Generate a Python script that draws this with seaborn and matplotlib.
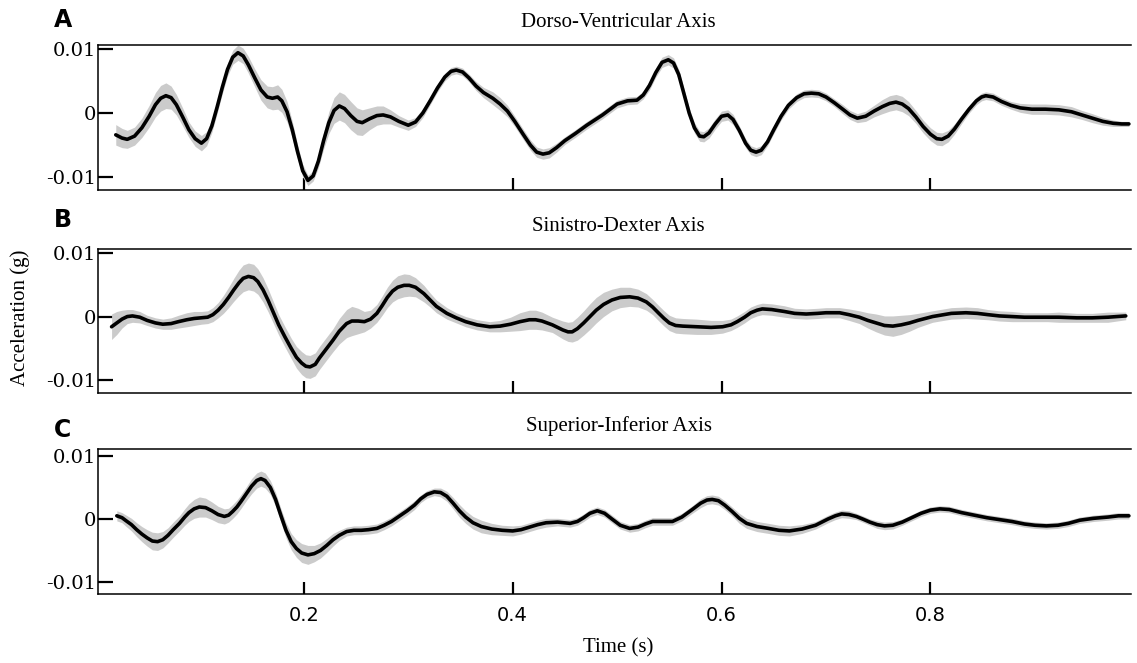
import matplotlib
matplotlib.use("Agg")
import matplotlib.pyplot as plt
import numpy as np
import pandas as pd
import seaborn as sns

# values, acceleration in units of 1e-3 g
# spread = half width of the grey band
dv_time = [0.020, 0.026, 0.031, 0.038, 0.045, 0.052, 0.058, 0.063, 0.068, 0.073,
           0.078, 0.084, 0.090, 0.096, 0.102, 0.107, 0.112, 0.117, 0.122, 0.127,
           0.132, 0.137, 0.142, 0.147, 0.153, 0.159, 0.165, 0.170, 0.175, 0.179,
           0.184, 0.189, 0.194, 0.199, 0.204, 0.209, 0.214, 0.219, 0.224, 0.229,
           0.234, 0.239, 0.245, 0.251, 0.256, 0.263, 0.270, 0.276, 0.283, 0.291,
           0.300, 0.307, 0.314, 0.321, 0.328, 0.335, 0.341, 0.346, 0.352, 0.358,
           0.365, 0.372, 0.381, 0.388, 0.395, 0.402, 0.410, 0.417, 0.423, 0.429,
           0.435, 0.442, 0.450, 0.460, 0.471, 0.486, 0.500, 0.510, 0.519, 0.525,
           0.531, 0.537, 0.543, 0.549, 0.554, 0.559, 0.564, 0.569, 0.574, 0.579,
           0.583, 0.588, 0.594, 0.600, 0.606, 0.611, 0.617, 0.623, 0.628, 0.633,
           0.638, 0.644, 0.650, 0.657, 0.664, 0.672, 0.679, 0.686, 0.693, 0.700,
           0.708, 0.716, 0.723, 0.730, 0.738, 0.746, 0.754, 0.761, 0.767, 0.773,
           0.779, 0.786, 0.793, 0.800, 0.806, 0.811, 0.817, 0.823, 0.830, 0.837,
           0.844, 0.849, 0.853, 0.860, 0.868, 0.877, 0.886, 0.897, 0.910, 0.923,
           0.935, 0.945, 0.955, 0.965, 0.975, 0.983, 0.990]
dv_mean = [-3.4, -3.9, -4.1, -3.6, -2.3, -0.5, 1.3, 2.3, 2.7, 2.4,
           1.3, -0.6, -2.6, -4.0, -4.7, -4.0, -2.0, 0.9, 4.0, 6.8,
           8.7, 9.4, 8.9, 7.5, 5.5, 3.6, 2.5, 2.3, 2.5, 1.9,
           0.2, -2.6, -6.0, -9.0, -10.5, -9.8, -7.5, -4.3, -1.5, 0.4,
           1.1, 0.7, -0.4, -1.3, -1.5, -0.9, -0.4, -0.3, -0.6, -1.3,
           -1.9, -1.4, 0.0, 1.9, 3.9, 5.6, 6.5, 6.7, 6.4, 5.5,
           4.2, 3.2, 2.3, 1.4, 0.3, -1.3, -3.3, -5.0, -6.1, -6.4,
           -6.2, -5.4, -4.3, -3.2, -1.9, -0.3, 1.4, 1.9, 2.0, 2.8,
           4.3, 6.3, 7.9, 8.3, 7.8, 6.0, 3.0, 0.0, -2.3, -3.6,
           -3.7, -3.1, -1.7, -0.5, -0.3, -1.0, -2.7, -4.7, -5.8, -6.1,
           -5.8, -4.5, -2.6, -0.5, 1.2, 2.4, 3.0, 3.1, 3.0, 2.5,
           1.6, 0.6, -0.3, -0.8, -0.5, 0.3, 1.0, 1.5, 1.7, 1.4,
           0.7, -0.6, -2.1, -3.3, -4.0, -4.1, -3.6, -2.5, -0.9, 0.6,
           1.9, 2.5, 2.7, 2.5, 1.8, 1.2, 0.8, 0.6, 0.6, 0.5,
           0.2, -0.3, -0.8, -1.3, -1.6, -1.7, -1.7]
dv_spread = [1.6, 1.5, 1.4, 1.4, 1.5, 1.7, 1.9, 2.0, 2.0, 1.8,
             1.6, 1.4, 1.2, 1.2, 1.2, 1.1, 1.0, 1.0, 1.0, 1.0,
             1.1, 1.2, 1.2, 1.3, 1.4, 1.6, 1.7, 1.8, 1.9, 1.8,
             1.6, 1.3, 1.1, 1.0, 0.8, 0.8, 1.0, 1.3, 1.7, 2.0,
             2.2, 2.2, 2.2, 2.1, 2.0, 1.7, 1.5, 1.4, 1.1, 0.9,
             0.8, 0.7, 0.7, 0.6, 0.6, 0.6, 0.6, 0.6, 0.6, 0.6,
             0.7, 0.8, 1.0, 1.0, 0.9, 0.8, 0.8, 0.8, 0.8, 0.8,
             0.8, 0.7, 0.6, 0.6, 0.6, 0.6, 0.6, 0.6, 0.6, 0.6,
             0.7, 0.7, 0.8, 0.8, 0.8, 0.8, 0.8, 0.8, 0.8, 0.8,
             0.8, 0.8, 0.8, 0.8, 0.8, 0.8, 0.7, 0.7, 0.7, 0.7,
             0.7, 0.6, 0.6, 0.6, 0.6, 0.6, 0.6, 0.6, 0.6, 0.6,
             0.6, 0.7, 0.7, 0.7, 0.8, 0.9, 1.1, 1.2, 1.2, 1.2,
             1.1, 1.0, 1.0, 1.0, 1.0, 1.0, 0.9, 0.8, 0.7, 0.6,
             0.6, 0.6, 0.6, 0.6, 0.6, 0.6, 0.7, 0.8, 0.8, 0.8,
             0.8, 0.7, 0.7, 0.6, 0.5, 0.4, 0.4]

sd_time = [0.016, 0.021, 0.026, 0.031, 0.036, 0.043, 0.050, 0.058, 0.065, 0.073,
           0.080, 0.088, 0.095, 0.102, 0.108, 0.113, 0.118, 0.123, 0.128, 0.133,
           0.138, 0.142, 0.147, 0.152, 0.156, 0.161, 0.166, 0.171, 0.176, 0.182,
           0.188, 0.193, 0.198, 0.202, 0.206, 0.211, 0.215, 0.221, 0.228, 0.234,
           0.241, 0.246, 0.252, 0.258, 0.264, 0.270, 0.275, 0.280, 0.285, 0.290,
           0.296, 0.301, 0.307, 0.315, 0.321, 0.327, 0.337, 0.346, 0.355, 0.366,
           0.378, 0.388, 0.398, 0.407, 0.416, 0.422, 0.428, 0.433, 0.438, 0.443,
           0.448, 0.453, 0.457, 0.462, 0.468, 0.474, 0.480, 0.487, 0.495, 0.503,
           0.512, 0.520, 0.528, 0.534, 0.540, 0.545, 0.550, 0.556, 0.563, 0.576,
           0.590, 0.601, 0.609, 0.615, 0.622, 0.628, 0.634, 0.639, 0.648, 0.660,
           0.670, 0.681, 0.692, 0.700, 0.713, 0.722, 0.732, 0.740, 0.748, 0.756,
           0.764, 0.772, 0.780, 0.788, 0.795, 0.802, 0.809, 0.820, 0.834, 0.845,
           0.855, 0.866, 0.878, 0.890, 0.900, 0.912, 0.923, 0.940, 0.955, 0.970,
           0.987]
sd_mean = [-1.6, -1.0, -0.4, 0.0, 0.1, -0.1, -0.6, -1.0, -1.2, -1.1,
           -0.8, -0.5, -0.3, -0.2, -0.1, 0.3, 1.0, 1.9, 3.0, 4.2,
           5.3, 6.0, 6.3, 6.1, 5.5, 4.2, 2.5, 0.6, -1.3, -3.2,
           -5.0, -6.4, -7.3, -7.8, -7.9, -7.5, -6.5, -5.2, -3.7, -2.3,
           -1.1, -0.7, -0.7, -0.8, -0.4, 0.5, 1.7, 3.0, 4.0, 4.6,
           4.9, 4.9, 4.6, 3.6, 2.6, 1.6, 0.5, -0.2, -0.8, -1.3,
           -1.6, -1.5, -1.2, -0.8, -0.5, -0.5, -0.7, -1.0, -1.3, -1.7,
           -2.1, -2.4, -2.4, -1.9, -1.0, 0.0, 1.0, 1.9, 2.6, 3.0,
           3.1, 2.9, 2.3, 1.5, 0.5, -0.3, -1.0, -1.4, -1.5, -1.6,
           -1.7, -1.6, -1.3, -0.8, -0.1, 0.6, 1.0, 1.2, 1.1, 0.8,
           0.5, 0.4, 0.5, 0.6, 0.6, 0.3, -0.1, -0.6, -1.0, -1.4,
           -1.5, -1.3, -1.0, -0.6, -0.3, 0.0, 0.2, 0.5, 0.6, 0.5,
           0.3, 0.1, 0.0, -0.1, -0.1, -0.1, -0.1, -0.2, -0.2, -0.1,
           0.1]
sd_spread = [2.0, 1.8, 1.4, 1.1, 1.0, 0.9, 0.8, 0.8, 0.8, 0.9,
             1.0, 1.1, 1.1, 1.0, 1.0, 1.1, 1.2, 1.4, 1.6, 1.8,
             2.0, 2.1, 2.1, 2.1, 2.0, 1.9, 1.8, 1.7, 1.6, 1.6,
             1.6, 1.7, 1.8, 1.8, 1.8, 1.8, 1.8, 1.8, 1.8, 2.0,
             2.2, 2.3, 2.0, 1.6, 1.4, 1.4, 1.5, 1.6, 1.7, 1.8,
             1.8, 1.7, 1.5, 1.3, 1.1, 1.0, 0.9, 0.8, 0.8, 0.8,
             0.8, 0.9, 1.1, 1.4, 1.5, 1.5, 1.4, 1.3, 1.2, 1.3,
             1.4, 1.5, 1.6, 1.8, 1.9, 2.0, 2.0, 1.9, 1.7, 1.6,
             1.5, 1.4, 1.3, 1.2, 1.2, 1.2, 1.2, 1.2, 1.2, 1.2,
             1.1, 1.0, 0.9, 0.9, 0.9, 0.9, 0.9, 0.9, 0.9, 0.9,
             0.8, 0.8, 0.8, 0.8, 0.8, 0.9, 1.0, 1.2, 1.4, 1.5,
             1.6, 1.5, 1.3, 1.1, 1.0, 0.9, 0.9, 0.9, 0.9, 0.9,
             0.8, 0.8, 0.8, 0.7, 0.7, 0.7, 0.8, 0.7, 0.7, 0.8,
             0.6]

si_time = [0.021, 0.026, 0.030, 0.035, 0.040, 0.045, 0.050, 0.055, 0.060, 0.065,
           0.070, 0.075, 0.081, 0.086, 0.090, 0.095, 0.100, 0.106, 0.112, 0.118,
           0.124, 0.128, 0.132, 0.136, 0.140, 0.145, 0.150, 0.155, 0.159, 0.163,
           0.168, 0.173, 0.178, 0.183, 0.188, 0.193, 0.198, 0.204, 0.210, 0.216,
           0.222, 0.228, 0.234, 0.241, 0.248, 0.255, 0.262, 0.270, 0.277, 0.284,
           0.292, 0.299, 0.306, 0.312, 0.318, 0.325, 0.331, 0.337, 0.343, 0.349,
           0.355, 0.362, 0.370, 0.380, 0.390, 0.400, 0.408, 0.416, 0.424, 0.432,
           0.443, 0.455, 0.462, 0.468, 0.474, 0.481, 0.488, 0.495, 0.503, 0.512,
           0.520, 0.527, 0.534, 0.544, 0.553, 0.562, 0.572, 0.580, 0.586, 0.591,
           0.597, 0.603, 0.610, 0.617, 0.624, 0.634, 0.645, 0.655, 0.665, 0.677,
           0.690, 0.702, 0.709, 0.715, 0.722, 0.729, 0.735, 0.742, 0.749, 0.756,
           0.764, 0.773, 0.782, 0.791, 0.800, 0.809, 0.818, 0.830, 0.842, 0.854,
           0.866, 0.878, 0.890, 0.900, 0.911, 0.922, 0.932, 0.943, 0.956, 0.970,
           0.980, 0.990]
si_mean = [0.5, 0.2, -0.3, -0.9, -1.7, -2.4, -3.0, -3.5, -3.6, -3.3,
           -2.6, -1.7, -0.7, 0.3, 1.0, 1.6, 1.9, 1.8, 1.3, 0.7,
           0.4, 0.6, 1.2, 1.9, 2.8, 4.0, 5.2, 6.1, 6.4, 6.1,
           5.0, 3.1, 0.6, -1.8, -3.6, -4.7, -5.4, -5.7, -5.5, -5.0,
           -4.2, -3.3, -2.6, -2.0, -1.8, -1.8, -1.7, -1.5, -1.0, -0.4,
           0.5, 1.3, 2.2, 3.2, 3.9, 4.3, 4.2, 3.6, 2.5, 1.3,
           0.3, -0.6, -1.2, -1.6, -1.8, -1.9, -1.7, -1.3, -0.9, -0.6,
           -0.5, -0.7, -0.4, 0.2, 0.9, 1.3, 0.9, 0.0, -1.0, -1.5,
           -1.3, -0.8, -0.4, -0.4, -0.4, 0.3, 1.5, 2.5, 3.0, 3.1,
           2.9, 2.2, 1.2, 0.1, -0.7, -1.2, -1.5, -1.8, -1.9, -1.6,
           -1.0, 0.0, 0.5, 0.8, 0.7, 0.4, 0.0, -0.5, -0.9, -1.1,
           -1.0, -0.5, 0.2, 0.9, 1.4, 1.6, 1.5, 1.0, 0.6, 0.2,
           -0.1, -0.4, -0.8, -1.0, -1.1, -1.0, -0.7, -0.2, 0.1, 0.3,
           0.5, 0.5]
si_spread = [0.8, 0.8, 0.9, 1.0, 1.1, 1.2, 1.3, 1.4, 1.4, 1.3,
             1.2, 1.2, 1.2, 1.3, 1.4, 1.5, 1.6, 1.5, 1.4, 1.3,
             1.2, 1.1, 1.1, 1.1, 1.1, 1.1, 1.2, 1.2, 1.2, 1.2,
             1.1, 1.1, 1.1, 1.2, 1.3, 1.4, 1.5, 1.5, 1.3, 1.2,
             1.1, 1.0, 0.8, 0.7, 0.7, 0.7, 0.7, 0.7, 0.7, 0.7,
             0.7, 0.7, 0.7, 0.6, 0.6, 0.6, 0.7, 0.8, 0.9, 1.0,
             1.0, 1.0, 1.0, 0.9, 0.8, 0.8, 0.7, 0.7, 0.7, 0.7,
             0.6, 0.6, 0.6, 0.6, 0.6, 0.6, 0.6, 0.6, 0.6, 0.6,
             0.6, 0.6, 0.6, 0.6, 0.6, 0.6, 0.6, 0.7, 0.7, 0.7,
             0.7, 0.7, 0.7, 0.8, 0.8, 0.8, 0.8, 0.8, 0.8, 0.7,
             0.6, 0.6, 0.6, 0.6, 0.6, 0.5, 0.5, 0.5, 0.6, 0.6,
             0.6, 0.5, 0.5, 0.5, 0.5, 0.5, 0.5, 0.5, 0.5, 0.5,
             0.5, 0.5, 0.5, 0.5, 0.5, 0.5, 0.5, 0.5, 0.5, 0.5,
             0.5, 0.5]

panels = [
    ("A", "Dorso-Ventricular Axis", dv_time, dv_mean, dv_spread),
    ("B", "Sinistro-Dexter Axis", sd_time, sd_mean, sd_spread),
    ("C", "Superior-Inferior Axis", si_time, si_mean, si_spread),
]
x_ticks = [0.2, 0.4, 0.6, 0.8]
x_tick_labels = ["0.2", "0.4", "0.6", "0.8"]
y_ticks = [-0.01, 0, 0.01]
y_tick_labels = ["-0.01", "0", "0.01"]

sns.set_theme(style="white")
plt.rcParams["font.family"] = ["DejaVu Serif"]
plt.rcParams["text.color"] = "black"
plt.rcParams["axes.labelcolor"] = "black"
plt.rcParams["axes.titlecolor"] = "black"

fig = plt.figure(figsize=(11.37, 6.63), dpi=100)
# axes boxes (left, bottom, width, height) in figure fractions
boxes = [
    (0.0862, 0.7134, 0.9085, 0.2187),
    (0.0862, 0.4072, 0.9085, 0.2172),
    (0.0862, 0.1041, 0.9085, 0.2187),
]
letter_y = [0.970, 0.668, 0.351]

for i, (letter, title, t, m, s) in enumerate(panels):
    ax = fig.add_axes(boxes[i])
    df = pd.DataFrame({"t": t, "m": np.array(m) / 1000, "s": np.array(s) / 1000})
    ax.fill_between(df["t"], df["m"] - df["s"], df["m"] + df["s"],
                    color="#cbcbcb", lw=0)
    sns.lineplot(data=df, x="t", y="m", ax=ax, color="black", lw=2.6,
                 solid_joinstyle="round", solid_capstyle="round")
    ax.set_xlim(0.003, 0.992)
    if i < 2:
        ax.set_ylim(-0.0120, 0.0106)
    else:
        ax.set_ylim(-0.0119, 0.0111)
    ax.set_xticks(x_ticks)
    ax.set_yticks(y_ticks)
    ax.set_yticklabels(y_tick_labels, fontsize=14, family="DejaVu Serif")
    ax.tick_params(axis="y", direction="in", length=11, width=1.6, pad=1,
                   left=True, colors="black")
    ax.tick_params(axis="x", direction="in", length=9, width=1.6, pad=9,
                   bottom=True, colors="black")
    if i == 2:
        ax.set_xticklabels(x_tick_labels, fontsize=14, family="DejaVu Sans")
    else:
        ax.set_xticklabels([])
    ax.set_xlabel("")
    ax.set_ylabel("")
    for side in ["left", "top", "bottom"]:
        ax.spines[side].set_visible(True)
        ax.spines[side].set_color("black")
        ax.spines[side].set_linewidth(1.1)
    ax.spines["right"].set_visible(False)
    ax.set_title(title, fontsize=15, family="Liberation Serif", pad=13, x=0.504,
                 color="black")
    fig.text(0.047, letter_y[i], letter, fontsize=17, fontweight="bold",
             family="DejaVu Sans", va="center", ha="left", color="black")

fig.text(0.018, 0.52, "Acceleration (g)", rotation=90, fontsize=15,
         family="Liberation Serif", ha="center", va="center", color="black")
fig.text(0.544, 0.023, "Time (s)", fontsize=15, family="Liberation Serif",
         ha="center", va="center", color="black")

fig.savefig("out.png", dpi=100, facecolor="white")
